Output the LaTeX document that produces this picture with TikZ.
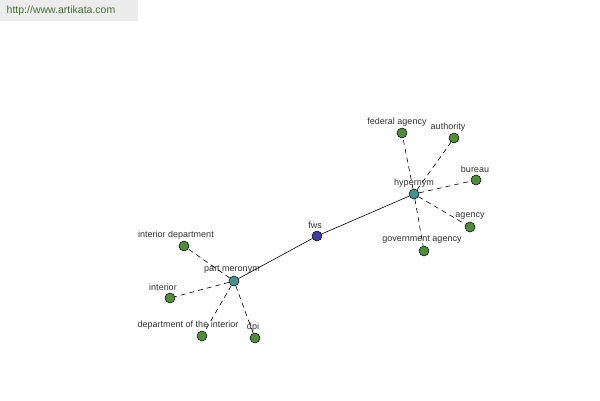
\documentclass[tikz,border=0pt]{standalone}
\usepackage{fontspec}
\setmainfont{Liberation Sans}
\definecolor{leafgreen}{RGB}{82,138,62}
\definecolor{relteal}{RGB}{74,143,143}
\definecolor{rootblue}{RGB}{62,62,150}
\definecolor{bannergray}{RGB}{236,236,236}
\definecolor{bannertext}{RGB}{72,110,52}
\begin{document}
\begin{tikzpicture}[
                x=1pt, y=-1pt,
                every node/.style={circle, draw, line width=0.5pt, minimum size=10pt, inner sep=0pt},
                lbl/.style={draw=none, rectangle, inner sep=0pt, minimum size=0pt, font=\fontsize{9}{10}\selectfont, text=black!80}
            ]
                \useasboundingbox (0,0) rectangle (600,400);
                % Banner
                \fill[bannergray] (0,0) rectangle (138,21);
                \node[lbl, text=bannertext, font=\fontsize{10.5}{12}\selectfont] (url) at (61,11) {http://www.artikata.com};

                % Root word
                \node[fill=rootblue] (fws) at (317,236) {};
                \node[lbl] (fws-l) at (315,225) {fws};

                % Relation nodes
                \node[fill=relteal] (hyp) at (414,194) {};
                \node[lbl] (hyp-l) at (414,183) {hypernym};
                \node[fill=relteal] (mer) at (234,281) {};
                \node[lbl] (mer-l) at (232,270) {part meronym};

                % Hypernyms
                \node[fill=leafgreen] (H1) at (402,133) {};
                \node[fill=leafgreen] (H2) at (454,138) {};
                \node[fill=leafgreen] (H3) at (476,180) {};
                \node[fill=leafgreen] (H4) at (470,227) {};
                \node[fill=leafgreen] (H5) at (424,251) {};
                \node[lbl] (H1-l) at (397,122) {federal agency};
                \node[lbl] (H2-l) at (448,127) {authority};
                \node[lbl] (H3-l) at (475,169) {bureau};
                \node[lbl] (H4-l) at (470,216) {agency};
                \node[lbl] (H5-l) at (422,240) {government agency};

                % Part meronyms
                \node[fill=leafgreen] (M1) at (184,246) {};
                \node[fill=leafgreen] (M2) at (170,298) {};
                \node[fill=leafgreen] (M3) at (202,336) {};
                \node[fill=leafgreen] (M4) at (255,338) {};
                \node[lbl] (M1-l) at (176,235) {interior department};
                \node[lbl] (M2-l) at (163,287) {interior};
                \node[lbl] (M3-l) at (188,325) {department of the interior};
                \node[lbl] (M4-l) at (253,327) {dpi};

                % Connections
                \draw[line width=0.6pt] (mer) -- (fws) -- (hyp);
                \foreach \h in {1,2,3,4,5}
                    \draw[line width=0.6pt, dash pattern=on 5pt off 4pt] (hyp) -- (H\h);
                \foreach \m in {1,2,3,4}
                    \draw[line width=0.6pt, dash pattern=on 5pt off 4pt] (mer) -- (M\m);
            \end{tikzpicture}
\end{document}
